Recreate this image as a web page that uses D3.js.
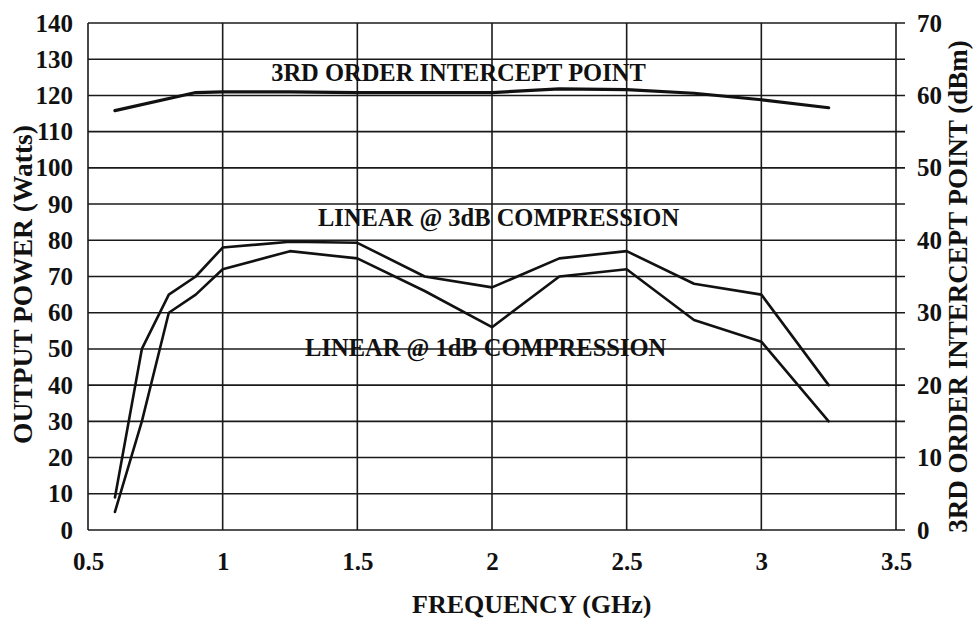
<!DOCTYPE html>
<html>
<head>
<meta charset="utf-8">
<script src="https://cdn.jsdelivr.net/npm/d3@7"></script>
<style>
  body { margin: 0; background: #fff; }
  svg text { font-family: "Liberation Serif", "Times New Roman", serif; font-weight: bold; fill: #111; }
</style>
</head>
<body>
<div id="chart"></div>
<script>
// frequency (GHz) for the power curves
const freqPow = [0.6, 0.7, 0.8, 0.9, 1.0, 1.25, 1.5, 1.75, 2.0, 2.25, 2.5, 2.75, 3.0, 3.25]
// output power (Watts)
const pow3dB = [9, 50, 65, 70, 78, 79.6, 79.3, 70, 67, 75, 77, 68, 65, 40]
const pow1dB = [5, 30, 60, 65, 72, 77, 75, 66, 56, 70, 72, 58, 52, 30]
// 3rd order intercept point (dBm)
const freqIp3 = [0.6, 0.9, 1.0, 1.25, 1.5, 1.75, 2.0, 2.25, 2.5, 2.75, 3.0, 3.25]
const ip3Dbm = [57.9, 60.4, 60.5, 60.5, 60.4, 60.4, 60.4, 60.9, 60.8, 60.3, 59.4, 58.3]

const xTicks = [0.5, 1, 1.5, 2, 2.5, 3, 3.5]
const wattTicks = d3.range(0, 141, 10)
const dbmTicks = d3.range(0, 71, 10)

// curve annotations: [text, freq, watts]
const notes = [
  ['3RD ORDER INTERCEPT POINT', 1.18, 124],
  ['LINEAR @ 3dB COMPRESSION', 1.354, 84],
  ['LINEAR @ 1dB COMPRESSION', 1.306, 48]
]

let w = 974, h = 618
let margin = { left: 88, right: 78, top: 23, bottom: 88 }

let svg = d3.select('#chart').append('svg')
  .attr('width', w).attr('height', h)

let x = d3.scaleLinear().domain([0.5, 3.5]).range([margin.left, w - margin.right])
let y = d3.scaleLinear().domain([0, 140]).range([h - margin.bottom, margin.top])
let y2 = d3.scaleLinear().domain([0, 70]).range([h - margin.bottom, margin.top])

// grid
let grid = svg.append('g').attr('stroke', '#1a1a1a').attr('stroke-width', 1.6)
grid.selectAll('line.h').data(wattTicks).enter().append('line')
  .attr('x1', x(0.5)).attr('x2', x(3.5) + 9)
  .attr('y1', d => y(d)).attr('y2', d => y(d))
grid.selectAll('line.v').data(xTicks).enter().append('line')
  .attr('x1', d => x(d)).attr('x2', d => x(d))
  .attr('y1', y(140)).attr('y2', y(0))

// axes
let axX = svg.append('g')
  .attr('transform', `translate(0,${y(0)})`)
  .call(d3.axisBottom(x).tickValues(xTicks).tickSize(0).tickPadding(22).tickFormat(d3.format('')))
let axL = svg.append('g')
  .attr('transform', `translate(${x(0.5)},0)`)
  .call(d3.axisLeft(y).tickValues(wattTicks).tickSize(0).tickPadding(15))
let axR = svg.append('g')
  .attr('transform', `translate(${x(3.5)},0)`)
  .call(d3.axisRight(y2).tickValues(dbmTicks).tickSize(0).tickPadding(21))
;[axX, axL, axR].forEach(a => {
  a.select('.domain').remove()
  a.selectAll('text').style('font-size', '25px')
    .style('font-family', '"Liberation Serif", "Times New Roman", serif')
    .style('font-weight', 'bold').attr('fill', '#111')
})

// curves
let lineW = d3.line().x(d => x(d[0])).y(d => y(d[1]))
let lineD = d3.line().x(d => x(d[0])).y(d => y2(d[1]))
let curves = svg.append('g').attr('fill', 'none').attr('stroke', '#111')
  .attr('stroke-linejoin', 'round').attr('stroke-linecap', 'round')
curves.append('path').datum(d3.zip(freqIp3, ip3Dbm))
  .attr('d', lineD).attr('stroke-width', 3.2)
curves.append('path').datum(d3.zip(freqPow, pow3dB))
  .attr('d', lineW).attr('stroke-width', 2.6)
curves.append('path').datum(d3.zip(freqPow, pow1dB))
  .attr('d', lineW).attr('stroke-width', 2.6)

// annotations
svg.append('g').selectAll('text').data(notes).enter().append('text')
  .attr('x', d => x(d[1])).attr('y', d => y(d[2]))
  .style('font-size', '24.5px')
  .text(d => d[0])

// axis titles
let midY = (y(0) + y(140)) / 2
svg.append('text')
  .attr('transform', `translate(32,${midY + 8}) rotate(-90)`)
  .attr('text-anchor', 'middle').style('font-size', '27.5px')
  .text('OUTPUT POWER (Watts)')
svg.append('text')
  .attr('transform', `translate(967,${midY + 10}) rotate(-90)`)
  .attr('text-anchor', 'middle').style('font-size', '27px')
  .text('3RD ORDER INTERCEPT POINT (dBm)')
svg.append('text')
  .attr('x', 412).attr('y', 613)
  .style('font-size', '26px')
  .text('FREQUENCY (GHz)')
</script>
</body>
</html>
